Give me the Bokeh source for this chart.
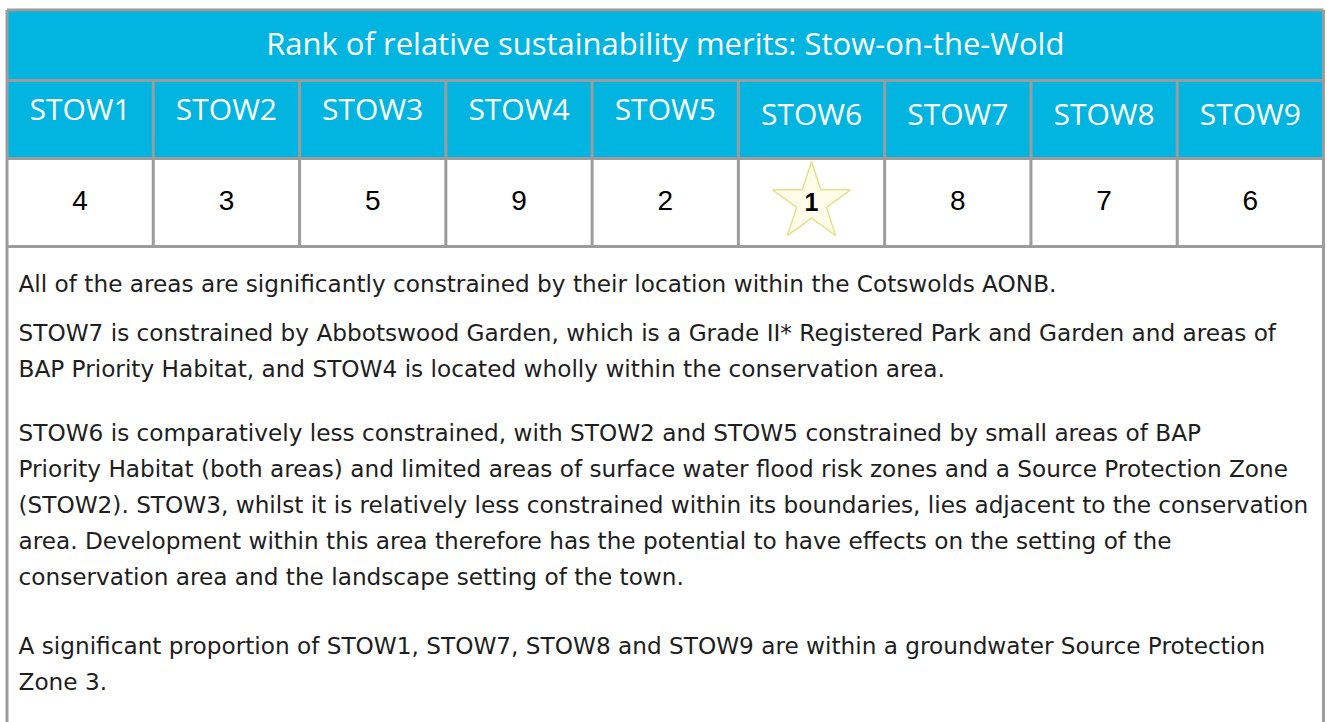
from bokeh.plotting import figure
from bokeh.models import Range1d
from bokeh.core.properties import value
from bokeh.embed import file_html
from bokeh.resources import INLINE

# ---- data ----
title = "Rank of relative sustainability merits: Stow-on-the-Wold"
sites = ["STOW1", "STOW2", "STOW3", "STOW4", "STOW5", "STOW6", "STOW7", "STOW8", "STOW9"]
ranks = [4, 3, 5, 9, 2, 1, 8, 7, 6]
paragraphs = [
    ["All of the areas are significantly constrained by their location within the Cotswolds AONB."],
    ["STOW7 is constrained by Abbotswood Garden, which is a Grade II* Registered Park and Garden and areas of",
     "BAP Priority Habitat, and STOW4 is located wholly within the conservation area."],
    ["STOW6 is comparatively  less constrained, with STOW2 and STOW5 constrained by small areas of BAP",
     "Priority Habitat (both areas) and limited areas of surface water flood risk zones and a Source Protection Zone",
     "(STOW2). STOW3, whilst it is relatively less constrained within its boundaries, lies adjacent to the conservation",
     "area.  Development within this area therefore has the potential to have effects on the setting of the",
     "conservation area and the landscape setting of the town."],
    ["A significant proportion of STOW1, STOW7, STOW8 and STOW9 are within a groundwater Source Protection",
     "Zone 3."],
]

# ---- layout (page pixel coordinates) ----
W, H = 1327, 722
X0, X1 = 6.5, 1323
Y_TOP, Y_HEAD, Y_NUM, Y_TXT = 9.5, 80, 158, 246
CYAN = "#02b5e1"
GRID = "#9c9c9c"

p = figure(width=W, height=H, output_backend="svg", toolbar_location=None,
           x_range=Range1d(0, W), y_range=Range1d(H, 0), min_border=0)
p.axis.visible = False
p.grid.visible = False
p.outline_line_color = None
p.background_fill_color = "white"
p.border_fill_color = "white"

n = len(sites)
colw = (X1 - X0) / n
edges = [X0 + i * colw for i in range(n + 1)]
centers = [X0 + (i + 0.5) * colw for i in range(n)]

# cyan bands
p.quad(left=[X0], right=[X1], top=[Y_TOP], bottom=[Y_NUM], fill_color=CYAN, line_color=None)

# title
p.text(x=[(X0 + X1) / 2], y=[42], text=[title], text_align="center", text_baseline="middle",
       text_color="white", text_font=value("Open Sans"), text_font_size="31px")

# header labels
hy = [108 if i < 5 else 113 for i in range(n)]
p.text(x=centers, y=hy, text=sites, text_align="center", text_baseline="middle",
       text_color="white", text_font=value("Open Sans"), text_font_size="30px")

# rank numbers (rank 1 shown inside a star)
norm_x = [c for c, r in zip(centers, ranks) if r != 1]
norm_t = [str(r) for r in ranks if r != 1]
p.text(x=norm_x, y=[200] * len(norm_x), text=norm_t, text_align="center", text_baseline="middle",
       text_color="black", text_font=value("Liberation Sans"), text_font_size="28px")
star_x = [c for c, r in zip(centers, ranks) if r == 1]
p.scatter(x=star_x, y=[202] * len(star_x), marker="star", size=82,
          fill_color="#fffdea", line_color="#e6e08c", line_width=1.5)
p.text(x=star_x, y=[201] * len(star_x), text=["1"] * len(star_x), text_align="center",
       text_baseline="middle", text_color="black", text_font=value("Liberation Sans"),
       text_font_size="25px", text_font_style="bold")

# grid lines
segs_x0 = [X0, X1, X0, X0, X0, X0]
segs_y0 = [Y_TOP, Y_TOP, Y_TOP, Y_HEAD, Y_NUM, Y_TXT]
segs_x1 = [X0, X1, X1, X1, X1, X1]
segs_y1 = [H, H, Y_TOP, Y_HEAD, Y_NUM, Y_TXT]
for e in edges[1:-1]:
    segs_x0.append(e); segs_y0.append(Y_HEAD); segs_x1.append(e); segs_y1.append(Y_TXT)
p.segment(x0=segs_x0, y0=segs_y0, x1=segs_x1, y1=segs_y1, line_color=GRID, line_width=3)

# body text
para_start = [283, 332, 432, 645]
line_gap = 36
ys, txts = [], []
for y0, para in zip(para_start, paragraphs):
    for k, ln in enumerate(para):
        ys.append(y0 + k * line_gap); txts.append(ln)
p.text(x=[18] * len(txts), y=ys, text=txts, text_align="left", text_baseline="middle",
       text_color="#1e1e1e", text_font=value("DejaVu Sans"), text_font_size="23.2px")

open("out.html", "w").write(file_html(p, INLINE))
